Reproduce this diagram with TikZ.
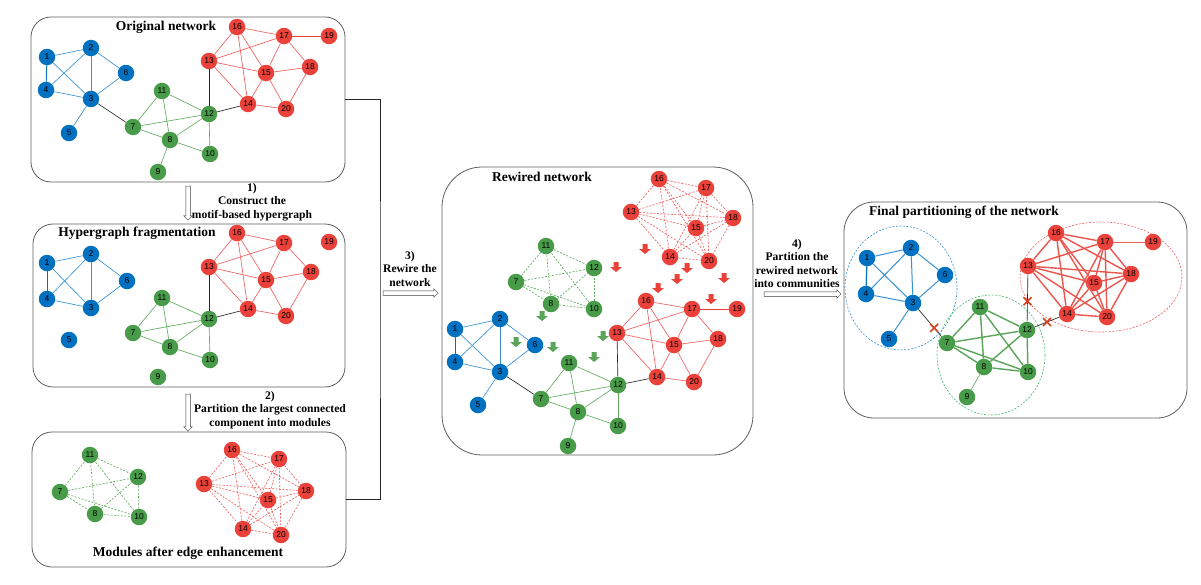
\documentclass[tikz,border=0pt]{standalone}
\usepackage{fontspec}
\setmainfont{Liberation Serif}
\newfontfamily\nfont{Liberation Sans}
\usetikzlibrary{shapes.arrows,backgrounds,calc}
\definecolor{nblue}{RGB}{0,112,192}
\definecolor{ngreen}{RGB}{72,155,72}
\definecolor{nred}{RGB}{234,66,58}
\definecolor{eblue}{RGB}{55,145,212}
\definecolor{egreen}{RGB}{95,172,95}
\definecolor{ered}{RGB}{240,95,95}
\definecolor{xred}{RGB}{214,64,30}
\definecolor{boxgray}{RGB}{95,95,95}
\definecolor{ellgreen}{RGB}{70,185,110}
\newcommand\lstBlue{1/2,1/4,1/3,2/4,2/3,2/6,4/3,3/6}
\newcommand\lstGreen{11/7,11/8,11/12,7/12,7/8,8/12,12/10,8/10}
\newcommand\lstRed{16/13,16/15,16/14,16/17,17/13,17/15,17/18,13/15,13/14,15/18,15/14,15/20,14/20,18/20}
\newcommand\dArr[3]{\fill[#3] (#1,#2) ++(-2.5,-5) -- ++(5,0) -- ++(0,5) -- ++(3.5,0) -- ++(-6,5) -- ++(-6,-5) -- ++(3.5,0) -- cycle;}
\begin{document}
\begin{tikzpicture}[x=1pt,y=-1pt,
 nd/.style={circle, inner sep=0pt, minimum size=16.5pt, font=\nfont\fontsize{8.5}{9}\selectfont, text=black},
 bn/.style={nd, fill=nblue},
 gn/.style={nd, fill=ngreen},
 rn/.style={nd, fill=nred},
 col/.code={\ifnum#1<7 \tikzset{bn}\else\ifnum#1<13 \tikzset{gn}\else\tikzset{rn}\fi\fi},
 be/.style={draw=eblue, line width=0.65pt},
 ge/.style={draw=egreen, line width=0.65pt},
 re/.style={draw=ered, line width=0.65pt},
 ke/.style={draw=black!85, line width=0.65pt},
 dsh/.style={dash pattern=on 2pt off 1.5pt},
 panel/.style={draw=boxgray, line width=0.8pt, rounded corners=#1, inner sep=0pt},
 ttl/.style={font=\bfseries\fontsize{13.5}{15}\selectfont},
 lbl/.style={font=\bfseries\fontsize{11.6}{13.5}\selectfont, align=center},
 hollow/.style={single arrow, draw=black!75, fill=white, line width=0.5pt, inner sep=2pt, single arrow head extend=2pt, minimum height=#1},
 xcut/.pic={\draw[xred, line width=1.6pt] (-4,-4) -- (4,4) (-4,4) -- (4,-4);}
]
\useasboundingbox (0,0) rectangle (1201,584);
\fill[white] (0,0) rectangle (1201,584);

% panels
\node[panel=20pt, minimum width=314pt, minimum height=165pt] (P1) at (188,99.5) {};
\node[panel=20pt, minimum width=312pt, minimum height=163pt] (P2) at (189,305.5) {};
\node[panel=20pt, minimum width=314pt, minimum height=135pt] (P3) at (189,499.5) {};
\node[panel=40pt, minimum width=311pt, minimum height=288pt] (P4) at (597.5,311) {};
\node[panel=30pt, minimum width=343pt, minimum height=216pt] (P5) at (1015.5,310) {};

\node[ttl] (T1) at (166,27) {Original network};
\node[ttl] (T2) at (137,233) {Hypergraph fragmentation};
\node[ttl] (T3) at (188,553) {Modules after edge enhancement};
\node[ttl] (T4) at (542,177) {Rewired network};
\node[ttl] (T5) at (964,212) {Final partitioning of the network};

% ---------- panel 1: original network
\foreach \n/\x/\y in {1/47/57,2/91/48,6/126/73,4/46/90,3/91/99,5/69/133,11/162/91,7/133/127,12/209/114,8/170/140,10/210/154,9/158/172,13/209/61,16/237/27,17/284/36,19/329/36,18/310/67,15/266/73,14/248/104,20/286/109}
  \node[col=\n] (a\n) at (\x,\y) {\n};
\foreach \u/\v in \lstBlue \draw[be] (a\u) -- (a\v);
\draw[be] (a3) -- (a5);
\draw[draw=nblue, line width=0.8pt] (a1) -- (a4);
\foreach \u/\v in \lstGreen \draw[ge] (a\u) -- (a\v);
\draw[ge] (a8) -- (a9);
\foreach \u/\v in \lstRed \draw[re] (a\u) -- (a\v);
\draw[draw=nred, line width=0.8pt] (a17) -- (a19);
\draw[ke] (a3) -- (a7);
\draw[ke] (a12) -- (a13);
\draw[ke] (a12) -- (a14);

% ---------- panel 2: hypergraph fragmentation
\foreach \n/\x/\y in {1/47/263,2/91/254,6/127/281,4/47/299,3/91/308,5/69/340,11/162/298,7/133/333,12/209/319,8/170/347,10/210/360,9/158/377,13/209/267,16/237/233,17/284/243,19/329/242,18/311/272,15/266/280,14/248/309,20/286/316}
  \node[col=\n] (b\n) at (\x,\y) {\n};
\foreach \u/\v in \lstBlue \draw[be] (b\u) -- (b\v);
\draw[draw=nblue, line width=0.8pt] (b1) -- (b4);
\foreach \u/\v in \lstGreen \draw[ge] (b\u) -- (b\v);
\foreach \u/\v in \lstRed \draw[re] (b\u) -- (b\v);
\draw[ke] (b12) -- (b13);
\draw[ke] (b12) -- (b14);

% ---------- panel 3: modules
\foreach \n/\x/\y in {11/90/455,12/138/477,7/60/492,8/95/514,10/139/517,16/232/450,17/279/459,13/204/484,18/306/491,15/268/500,14/243/529,20/281/535}
  \node[col=\n] (c\n) at (\x,\y) {\n};
\foreach \u [count=\i] in {7,8,10,11,12}
  \foreach \v [count=\j] in {7,8,10,11,12}
    {\ifnum\i<\j \draw[ge, dsh] (c\u) -- (c\v); \fi}
\foreach \u [count=\i] in {13,14,15,16,17,18,20}
  \foreach \v [count=\j] in {13,14,15,16,17,18,20}
    {\ifnum\i<\j \draw[re, dsh] (c\u) -- (c\v); \fi}

% ---------- panel 4: rewired network
\foreach \n/\x/\y in {16/659/179,17/706/188,13/631/212,18/733/218,15/696/228,14/670/257,20/709/261,11/546/246,12/594/268,7/516/282,8/551/304,10/594/309}
  \node[col=\n] (d\n) at (\x,\y) {\n};
\foreach \u [count=\i] in {7,8,10,11,12}
  \foreach \v [count=\j] in {7,8,10,11,12}
    {\ifnum\i<\j \draw[ge, dsh] (d\u) -- (d\v); \fi}
\foreach \u [count=\i] in {13,14,15,16,17,18,20}
  \foreach \v [count=\j] in {13,14,15,16,17,18,20}
    {\ifnum\i<\j \draw[re, dsh] (d\u) -- (d\v); \fi}
\foreach \n/\x/\y in {1/455/329,2/500/319,6/535/345,4/455/362,3/500/372,5/478/405,11/569/363,7/541/399,12/618/385,8/578/412,10/618/426,9/568/446,13/617/333,16/646/301,17/692/309,19/737/309,18/718/339,15/674/345,14/657/377,20/694/382}
  \node[col=\n] (e\n) at (\x,\y) {\n};
\foreach \u/\v in \lstBlue \draw[be] (e\u) -- (e\v);
\draw[be] (e3) -- (e5);
\draw[draw=nblue, line width=0.8pt] (e1) -- (e4);
\foreach \u/\v in \lstGreen \draw[ge] (e\u) -- (e\v);
\draw[ge] (e8) -- (e9);
\foreach \u/\v in \lstRed \draw[re] (e\u) -- (e\v);
\draw[draw=nred, line width=0.8pt] (e17) -- (e19);
\draw[ke] (e3) -- (e7);
\draw[ke] (e12) -- (e13);
\draw[ke] (e12) -- (e14);
\begin{scope}[on background layer]
\foreach \n in {7,8,10,11,12}
  \draw[draw=egreen!30, line width=0.6pt] (d\n) .. controls +(0,80) and +(-10,30) .. (e\n);
\foreach \n in {13,14,15,16,17,18,20}
  \draw[draw=ered!30, line width=0.6pt] (d\n) .. controls +(-4,70) and +(-6,-40) .. (e\n);
\end{scope}
\foreach \x/\y in {542/316,516/342,553/347,603/336,594/357} \dArr{\x}{\y}{ngreen!90};
\foreach \x/\y in {616/267,645/249,658/288,677/279,687/268,724/278,711/299} \dArr{\x}{\y}{nred};

% ---------- panel 5: final partitioning
\draw[draw=eblue, dsh, line width=0.6pt] (901,288) ellipse [x radius=56, y radius=62];
\draw[draw=ellgreen, dsh, line width=0.6pt] (991,355) ellipse [x radius=54, y radius=60];
\draw[draw=ered, dsh, line width=0.6pt] (1101,277) ellipse [x radius=81, y radius=55];
\foreach \n/\x/\y in {1/867/258,2/911/248,6/945/275,4/866/294,3/913/303,5/889/339,11/980/307,7/947/343,12/1027/330,8/984/367,10/1028/372,9/967/397,13/1028/266,16/1056/233,17/1105/242,19/1153/242,18/1131/274,15/1094/283,14/1067/314,20/1107/317}
  \node[col=\n] (f\n) at (\x,\y) {\n};
\foreach \u/\v in \lstBlue \draw[draw=eblue, line width=1pt] (f\u) -- (f\v);
\draw[draw=eblue, line width=1pt] (f3) -- (f5);
\draw[draw=nblue, line width=1.1pt] (f1) -- (f4);
\foreach \u [count=\i] in {7,8,10,11,12}
  \foreach \v [count=\j] in {7,8,10,11,12}
    {\ifnum\i<\j \draw[draw=ngreen!90, line width=1.4pt] (f\u) -- (f\v); \fi}
\draw[ge] (f8) -- (f9);
\foreach \u [count=\i] in {13,14,15,16,17,18,20}
  \foreach \v [count=\j] in {13,14,15,16,17,18,20}
    {\ifnum\i<\j \draw[draw=nred!90, line width=1.4pt] (f\u) -- (f\v); \fi}
\draw[re] (f17) -- (f19);
\draw[ke] (f3) -- (f7);
\draw[ke] (f12) -- (f13);
\draw[ke] (f12) -- (f14);
\pic at ($(f3)!0.62!(f7)$) {xcut};
\pic at ($(f12)!0.45!(f13)$) {xcut};
\pic at ($(f12)!0.5!(f14)$) {xcut};

% ---------- connectors between panels
\node[hollow=34pt, shape border rotate=270] (A1) at (188,202) {};
\node[hollow=37pt, shape border rotate=270] (A2) at (188,411.5) {};
\coordinate (J) at (380,300);
\draw[ke] (P1.east) -| (J) |- (P3.east);
\node[hollow=55pt] (A3) at (409.5,293) {};
\node[hollow=77pt] (A4) at (801.5,294) {};

\node[lbl] (L1) at (252,202) {1)\\Construct the\\motif-based hypergraph};
\node[lbl] (L2) at (270,410) {2)\\Partition the largest connected\\component into modules};
\node[lbl] (L3) at (410,269) {3)\\Rewire the\\network};
\node[lbl] (L4) at (797,263.5) {4)\\Partition the\\rewired network\\into communities};
\end{tikzpicture}
\end{document}
